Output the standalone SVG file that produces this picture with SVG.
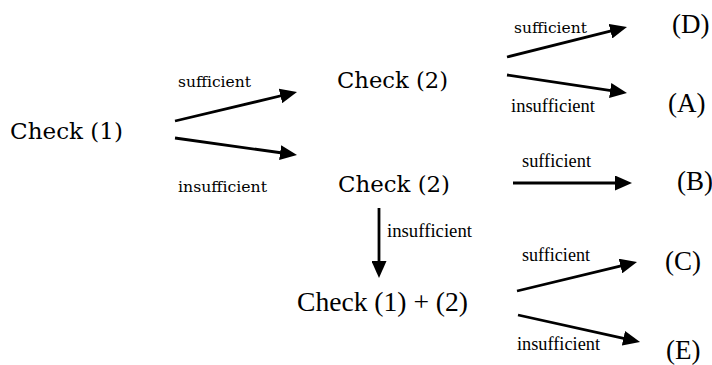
<svg xmlns="http://www.w3.org/2000/svg" width="712" height="365" viewBox="0 0 712 365">
  <style>
    .cam { font-family: "DejaVu Serif", "Liberation Serif", serif; fill: #000; }
    .tms { font-family: "Liberation Serif", "Times New Roman", serif; fill: #000; }
    .node { font-size: 23px; }
    .outc { font-size: 27px; }
    .lbl-c { font-size: 14.5px; }
    .lbl-t { font-size: 18.5px; }
    .edge { stroke: #000; stroke-width: 2.8; fill: none; marker-end: url(#head); }
  </style>
  <defs>
    <marker id="head" markerUnits="userSpaceOnUse" markerWidth="17" markerHeight="15" refX="6" refY="7.5" orient="auto">
      <path d="M0,0 L17,7.5 L0,15 z" fill="#000"/>
    </marker>
  </defs>
  <rect width="712" height="365" fill="#fff"/>

  <g id="connectors">
    <line class="edge" x1="175" y1="121" x2="286.3" y2="94.5"/>
    <line class="edge" x1="175" y1="138" x2="286.1" y2="153.5"/>
    <line class="edge" x1="507" y1="57" x2="616.3" y2="29.7"/>
    <line class="edge" x1="507" y1="75" x2="616.1" y2="91.4"/>
    <line class="edge" x1="513" y1="183" x2="621" y2="183"/>
    <line class="edge" x1="379" y1="208" x2="379" y2="267"/>
    <line class="edge" x1="517" y1="291" x2="626.3" y2="264.6"/>
    <line class="edge" x1="518" y1="315" x2="629.3" y2="339.6"/>
  </g>

  <g id="edge-labels">
    <text class="cam lbl-c" x="178" y="87" textLength="73" lengthAdjust="spacingAndGlyphs">sufficient</text>
    <text class="cam lbl-c" x="178" y="192" textLength="89" lengthAdjust="spacingAndGlyphs">insufficient</text>
    <text class="cam lbl-c" x="514" y="33" textLength="73" lengthAdjust="spacingAndGlyphs">sufficient</text>
    <text class="tms lbl-t" x="511" y="112" textLength="84" lengthAdjust="spacingAndGlyphs">insufficient</text>
    <text class="tms lbl-t" x="522" y="167" textLength="69" lengthAdjust="spacingAndGlyphs">sufficient</text>
    <text class="tms lbl-t" x="387" y="237" textLength="85" lengthAdjust="spacingAndGlyphs">insufficient</text>
    <text class="tms lbl-t" x="522" y="261" textLength="68" lengthAdjust="spacingAndGlyphs">sufficient</text>
    <text class="tms lbl-t" x="517" y="350" textLength="83" lengthAdjust="spacingAndGlyphs">insufficient</text>
  </g>

  <g id="check1"><text class="cam node" x="10" y="139" textLength="113" lengthAdjust="spacingAndGlyphs">Check (1)</text></g>
  <g id="check2-top"><text class="cam node" x="337" y="88" textLength="111" lengthAdjust="spacingAndGlyphs">Check (2)</text></g>
  <g id="check2-bottom"><text class="cam node" x="338" y="192" textLength="112" lengthAdjust="spacingAndGlyphs">Check (2)</text></g>
  <g id="check12"><text class="tms outc" x="297" y="311" textLength="171" lengthAdjust="spacingAndGlyphs">Check (1) + (2)</text></g>

  <g id="outcome-d"><text class="tms outc" x="672" y="33">(D)</text></g>
  <g id="outcome-a"><text class="tms outc" x="668" y="112">(A)</text></g>
  <g id="outcome-b"><text class="tms outc" x="677" y="190">(B)</text></g>
  <g id="outcome-c"><text class="tms outc" x="665" y="270">(C)</text></g>
  <g id="outcome-e"><text class="tms outc" x="666" y="359">(E)</text></g>
</svg>
